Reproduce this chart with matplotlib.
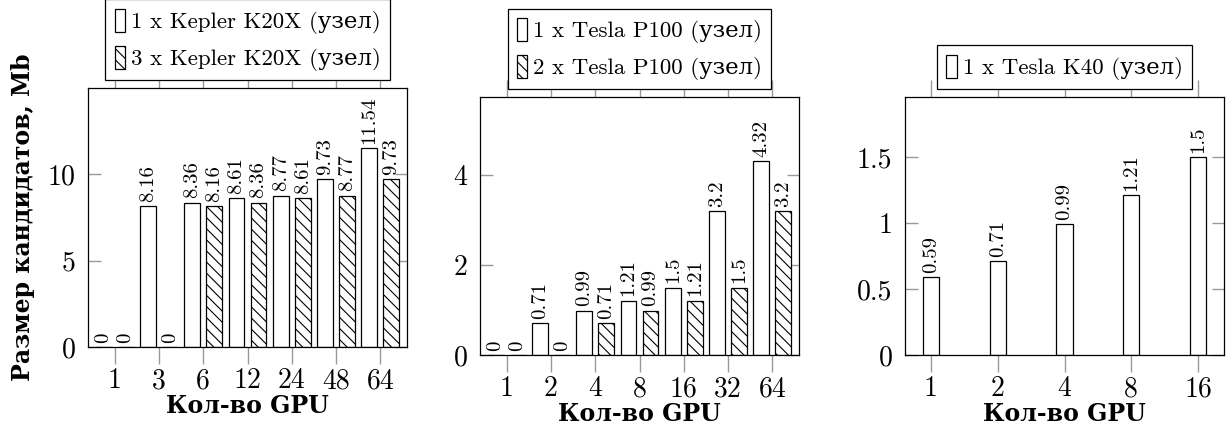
import numpy as np
import matplotlib
matplotlib.use("Agg")
import matplotlib.pyplot as plt

# data
gpus_k20x = ["1", "3", "6", "12", "24", "48", "64"]
k20x_1 = [0, 8.16, 8.36, 8.61, 8.77, 9.73, 11.54]
k20x_3 = [0, 0, 8.16, 8.36, 8.61, 8.77, 9.73]

gpus_p100 = ["1", "2", "4", "8", "16", "32", "64"]
p100_1 = [0, 0.71, 0.99, 1.21, 1.5, 3.2, 4.32]
p100_2 = [0, 0, 0.71, 0.99, 1.21, 1.5, 3.2]

gpus_k40 = ["1", "2", "4", "8", "16"]
k40_1 = [0.59, 0.71, 0.99, 1.21, 1.5]

SERIF = ["cmr10", "DejaVu Serif"]
BOLD = ["DejaVu Serif"]
plt.rcParams["font.family"] = SERIF
plt.rcParams["hatch.linewidth"] = 0.8
plt.rcParams["axes.unicode_minus"] = False

W, H = 1232, 432
fig = plt.figure(figsize=(W / 100, H / 100), dpi=100)


def px_axes(left, top, right, bottom):
    return fig.add_axes([left / W, 1 - bottom / H, (right - left) / W, (bottom - top) / H])


def style(ax, cats, yticks, ylim, xlim):
    ax.set_xlim(*xlim)
    ax.set_ylim(*ylim)
    ax.set_xticks(np.arange(len(cats)))
    ax.set_xticklabels(cats, fontsize=20)
    ax.set_yticks(yticks)
    ax.set_yticklabels(["%g" % t for t in yticks], fontsize=20)
    ax.tick_params(axis="x", direction="out", length=12, width=1, color="#999999",
                   top=True, bottom=True, pad=3)
    ax.tick_params(axis="y", direction="in", length=9, width=1, color="#999999",
                   left=True, right=True, pad=9)
    for s in ax.spines.values():
        s.set_linewidth(0.9)
    ax.set_xlabel("Кол-во GPU", family=BOLD, fontweight="bold", fontsize=17, labelpad=0)


def bars(ax, x, vals, label, hatch=None):
    b = ax.bar(x, vals, width=bw, facecolor="white", edgecolor="black", linewidth=0.9,
               hatch=hatch, label=label, zorder=2)
    ax.bar_label(b, labels=["%g" % v for v in vals], rotation=90, padding=3,
                 fontsize=15, family=SERIF)
    return b


def legend(ax):
    lg = ax.legend(loc="lower center", bbox_to_anchor=(0.5, 1.03), borderaxespad=0,
                   handlelength=0.45, handleheight=1.2, handletextpad=0.25,
                   fancybox=False, framealpha=1, edgecolor="black", borderpad=0.4,
                   labelspacing=0.5, prop={"family": SERIF, "size": 16.5})
    lg.get_frame().set_linewidth(0.9)


# panel 1
ax1 = px_axes(88, 88, 407, 347)
x = np.arange(len(gpus_k20x))
bw = 0.36
bars(ax1, x - 0.248, k20x_1, "1 x Kepler K20X (узел)")
bars(ax1, x + 0.248, k20x_3, "3 x Kepler K20X (узел)", hatch="\\" * 3)
style(ax1, gpus_k20x, [0, 5, 10], (0, 15), (-0.6, 6.6))
ax1.set_ylabel("Размер кандидатов, Mb", family=BOLD, fontweight="bold", fontsize=17,
               labelpad=9)
legend(ax1)

# panel 2
ax2 = px_axes(480, 97, 799, 355)
x = np.arange(len(gpus_p100))
bars(ax2, x - 0.248, p100_1, "1 x Tesla P100 (узел)")
bars(ax2, x + 0.248, p100_2, "2 x Tesla P100 (узел)", hatch="\\" * 3)
style(ax2, gpus_p100, [0, 2, 4], (0, 5.74), (-0.6, 6.6))
legend(ax2)

# panel 3
ax3 = px_axes(905, 97, 1224, 355)
x = np.arange(len(gpus_k40))
bw = 0.24
bars(ax3, x, k40_1, "1 x Tesla K40 (узел)")
style(ax3, gpus_k40, [0, 0.5, 1, 1.5], (0, 1.955), (-0.39, 4.39))
legend(ax3)

fig.savefig("out.png", dpi=100)
